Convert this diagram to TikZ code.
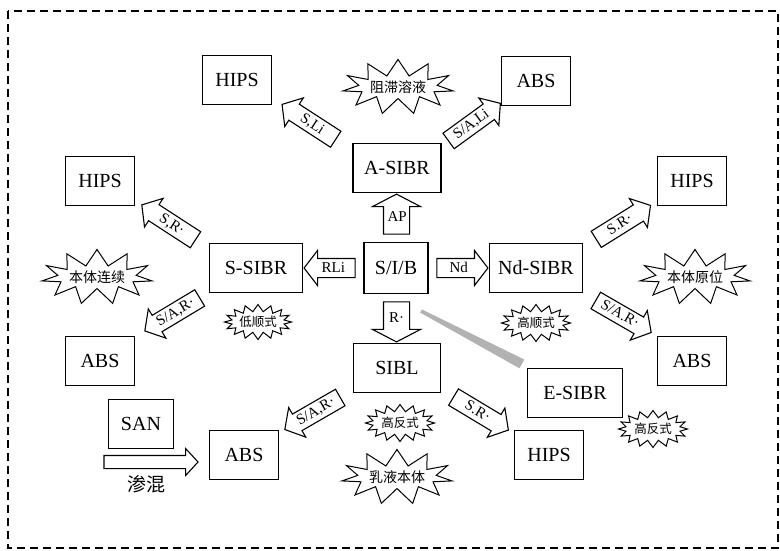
\documentclass[tikz,border=0pt]{standalone}
\usepackage{fontspec}
\setmainfont{Liberation Serif}
\newfontfamily\cjk{Noto Sans CJK SC}
\usepackage{tikz}
\usetikzlibrary{calc,shapes.arrows,shapes.symbols}

\begin{document}
\begin{tikzpicture}[
  x=1pt,
  y=-1pt,
  box/.style={draw, line width=1.2pt, minimum width=69pt, minimum height=49pt, inner sep=0pt, font=\fontsize{20}{24}\selectfont},
  blockarrow/.style={single arrow, draw, line width=1.1pt, fill=white, inner xsep=2pt, inner ysep=3pt, text height=10pt, text depth=2pt, single arrow head extend=7.5pt, single arrow tip angle=100, minimum height=64pt, font=\fontsize{15}{17}\selectfont},
  uparrow/.style={blockarrow, shape border rotate=90, minimum height=40pt, text width=18pt, align=center, inner xsep=3.5pt, single arrow head extend=11pt, single arrow tip angle=125},
  sidearrow/.style={blockarrow, minimum height=51pt, single arrow head extend=8pt, single arrow tip angle=105},
  burst/.style={starburst, draw, line width=1pt, fill=white, inner sep=0pt, random starburst=0, starburst points=16, starburst point height=7pt, minimum width=69pt, minimum height=37pt, font=\cjk\fontsize{12.5}{14}\selectfont},
  bigburst/.style={burst, starburst points=11, starburst point height=16pt, minimum width=100pt, minimum height=55pt, font=\cjk\fontsize{14}{16}\selectfont},
]

% Frame.
\useasboundingbox (0,0) rectangle (780,550);
\draw[dash pattern=on 8pt off 5pt, line width=1.2pt] (8,11) rectangle (778,548);

% Centre and first products.
\node[box, minimum width=64pt, minimum height=51pt] (sib) at (396,268) {S/I/B};
\node[box, minimum width=88pt] (asibr) at (397,168) {A-SIBR};
\node[box, minimum width=93pt] (ssibr) at (256,268) {S-SIBR};
\node[box, minimum width=93pt] (ndsibr) at (536,268) {Nd-SIBR};
\node[box, minimum width=87pt] (sibl) at (397,368) {SIBL};
\node[box, minimum width=95pt] (esibr) at (575,393) {E-SIBR};

% Resins.
\node[box] (hipsa) at (237,80) {HIPS};
\node[box] (absa) at (536,81) {ABS};
\node[box] (hipss) at (100,181) {HIPS};
\node[box] (abss) at (100,361) {ABS};
\node[box] (hipsnd) at (692,181) {HIPS};
\node[box] (absnd) at (692,361) {ABS};
\node[box] (hipsl) at (549,455) {HIPS};
\node[box] (absl) at (244,455) {ABS};
\node[box, minimum width=65pt] (san) at (141,424) {SAN};

% Initiators from S/I/B.
\node[uparrow] (ap) at ($(sib.north)!0.5!(asibr.south)$) {AP};
\node[uparrow, shape border rotate=270] (rdot) at ($(sib.south)!0.5!(sibl.north)$) {R·};
\node[sidearrow, shape border rotate=180] (rli) at ($(sib.west)!0.5!(ssibr.east)$) {RLi};
\node[sidearrow] (nd) at ($(sib.east)!0.5!(ndsibr.west)$) {Nd};

% Grafting routes.
\node[blockarrow, rotate=-33, shape border rotate=180] (sli) at ($(hipsa.south east)!0.5!(asibr.north west)$) {S,Li};
\node[blockarrow, rotate=36] (sali) at ($(asibr.north east)!0.5!(absa.south west)$) {S/A,Li};
\node[blockarrow, rotate=-33, shape border rotate=180] (srs) at ($(hipss.south east)!0.5!(ssibr.north west)$) {S,R·};
\node[blockarrow, rotate=31, shape border rotate=180] (sars) at ($(ssibr.south west)!0.45!(abss.north east)$) {S/A,R·};
\node[blockarrow, rotate=32] (srnd) at ($(ndsibr.north east)!0.5!(hipsnd.south west)$) {S.R·};
\node[blockarrow, rotate=-30] (sarnd) at ($(ndsibr.south east)!0.5!(absnd.north west)$) {S/A.R·};
\node[blockarrow, rotate=30, shape border rotate=180] (sarl) at ($(sibl.south west)!0.5!(absl.north east)$) {S/A,R·};
\node[blockarrow, rotate=-31] (srl) at ($(sibl.south east)!0.5!(hipsl.north west)$) {S.R·};

% Blending SAN.
\node[blockarrow, minimum height=94pt, inner ysep=6pt, text height=0pt, text depth=0pt, single arrow head extend=7pt, single arrow tip angle=95] (blend) at (148,462) {};
\node[font=\cjk\fontsize{19}{21}\selectfont] (blendlab) at (146,484) {渗混};

% Processes and structures.
\node[bigburst] (solution) at (398,87) {阻滞溶液};
\node[bigburst] (bulkcont) at (97,277) {本体连续};
\node[bigburst] (bulkinsitu) at (695,277) {本体原位};
\node[bigburst] (emulsion) at (397,477) {乳液本体};
\node[burst, minimum width=64pt, minimum height=35pt] (lowcis) at (258,322) {低顺式};
\node[burst] (highcis) at (536,323) {高顺式};
\node[burst] (hightransl) at (400,423) {高反式};
\node[burst] (hightranse) at (653,429) {高反式};

% Epoxidation stroke.
\coordinate (strokestart) at (421,311);
\fill[gray!60] ($(strokestart)+(1,-1.5)$) -- ($(esibr.north west)+(-2.6,-8.4)$) -- ($(esibr.north west)+(-7.4,0.4)$) -- ($(strokestart)+(-1,1.5)$) -- cycle;

\end{tikzpicture}
\end{document}
